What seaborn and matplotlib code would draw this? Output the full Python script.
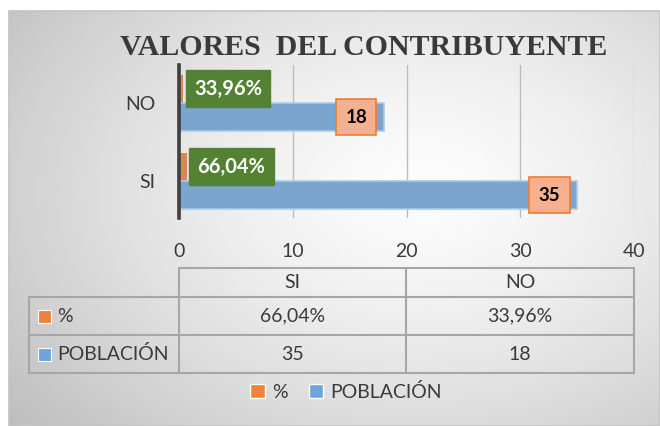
import matplotlib
matplotlib.use("Agg")
import matplotlib.pyplot as plt
from matplotlib.patches import Rectangle, Patch
import numpy as np
import pandas as pd
import seaborn as sns

# data
categorias = ["SI", "NO"]
porcentaje = [0.6604, 0.3396]
poblacion = [35, 18]
series = ["%", "POBLACIÓN"]
titulo = "VALORES  DEL CONTRIBUYENTE"
x_ticks = [0, 10, 20, 30, 40]

NARANJA = "#EE8240"
AZUL = "#6FA5DA"
VERDE = "#548235"
TEXTO = "#3A3A3A"

sns.set_style("white")
plt.rcParams["font.family"] = ["Lato", "DejaVu Sans"]

df = pd.DataFrame({
    "categoria": categorias * 2,
    "serie": [series[0]] * len(categorias) + [series[1]] * len(categorias),
    "valor": porcentaje + poblacion,
})


def fmt_pct(v):
    return f"{v * 100:.2f}".replace(".", ",") + "%"


W, H = 660, 426
fig = plt.figure(figsize=(W / 100, H / 100), dpi=100)


def px_box(x0, y0, x1, y1):
    return [x0 / W, 1 - y1 / H, (x1 - x0) / W, (y1 - y0) / H]


# gray radial gradient behind the chart
bg = fig.add_axes(px_box(9, 11, 660, 426), zorder=-10)
gx, gy = np.meshgrid(np.linspace(9, 660, 300), np.linspace(11, 426, 200))
r = np.hypot((gx - 420) / 470, (gy - 190) / 330)
shade = 0.99 - 0.21 * np.clip(r, 0, 1.2) ** 1.4
bg.imshow(shade, cmap="gray", vmin=0, vmax=1, aspect="auto",
          extent=(0, 1, 0, 1), interpolation="bilinear")
bg.set_axis_off()
fig.add_artist(Rectangle((9 / W, 0), 651 / W, 415 / H, transform=fig.transFigure,
                         fill=False, edgecolor="#C4C4C4", lw=1.2))

# bar chart
ax = fig.add_axes(px_box(179, 65, 634, 218))
ax.patch.set_alpha(0)
sns.barplot(data=df, x="valor", y="categoria", hue="serie", order=["NO", "SI"],
            hue_order=series, palette=[NARANJA, AZUL], orient="h",
            width=0.73, gap=0, legend=False, ax=ax, zorder=3)
for bar in ax.containers[1]:
    bar.set_edgecolor("#A9CBEB")
    bar.set_linewidth(1.2)
for bar in ax.containers[0]:
    bar.set_edgecolor("none")

ax.set_xlim(0, 40)
ax.set_ylim(1.474, -0.487)
ax.set_xticks(x_ticks)
ax.set_xlabel("")
ax.set_ylabel("")
ax.grid(axis="x", color="#BDBDBD", lw=1, zorder=0)
ax.tick_params(axis="x", length=0, pad=18, labelsize=14, labelcolor=TEXTO)
ax.tick_params(axis="y", length=0, pad=17, labelsize=14, labelcolor=TEXTO)
for s in ["top", "right", "bottom"]:
    ax.spines[s].set_visible(False)
ax.spines["left"].set_color("#3F3F3F")
ax.spines["left"].set_linewidth(2.6)
ax.spines["left"].set_zorder(5)

for bar in ax.containers[0]:
    yc = bar.get_y() + bar.get_height() / 2
    ax.annotate(fmt_pct(bar.get_width()), xy=(bar.get_width(), yc),
                xytext=(8, 0), textcoords="offset points", ha="left", va="center",
                fontsize=14.5, fontweight="bold", color="white", zorder=6,
                bbox=dict(boxstyle="square,pad=0.42", fc=VERDE, ec=VERDE))
for bar in ax.containers[1]:
    yc = bar.get_y() + bar.get_height() / 2
    ax.annotate(f"{bar.get_width():.0f}", xy=(bar.get_width(), yc),
                xytext=(-12, 0), textcoords="offset points", ha="right", va="center",
                fontsize=13.5, fontweight="bold", color="black", zorder=6,
                bbox=dict(boxstyle="square,pad=0.5", fc="#F5B08F", ec="#ED7D31", lw=1.2))

fig.text(364 / W, 1 - 55 / H, titulo, ha="center", va="baseline",
         fontsize=21.5, fontweight="bold", color=TEXTO, family="Liberation Serif")

# data table under the chart
tab = fig.add_axes([0, 0, 1, 1])
tab.set_xlim(0, W)
tab.set_ylim(H, 0)
tab.set_axis_off()
tab.patch.set_alpha(0)
lc = dict(color="#A6A6A6", lw=1.5)
cols = [29, 179, 406, 634]
rows = [268, 297, 335, 373]
tab.plot([179, 634], [268, 268], **lc)
for yv in rows[1:]:
    tab.plot([29, 634], [yv, yv], **lc)
tab.plot([29, 29], [297, 373], **lc)
for xv in cols[1:]:
    tab.plot([xv, xv], [268, 373], **lc)

col_centers = [(cols[1] + cols[2]) / 2, (cols[2] + cols[3]) / 2]
for xc, cat in zip(col_centers, categorias):
    tab.text(xc, 283, cat, ha="center", va="center", fontsize=14, color=TEXTO)
fila_vals = [[fmt_pct(v) for v in porcentaje], [str(v) for v in poblacion]]
for (yc, nombre, color, vals) in zip([316, 354], series, [NARANJA, AZUL], fila_vals):
    tab.add_patch(Rectangle((38, yc - 6.5), 13, 13, fc=color, ec="white", lw=0.8))
    tab.text(57, yc, nombre, ha="left", va="center", fontsize=14, color=TEXTO)
    for xc, val in zip(col_centers, vals):
        tab.text(xc, yc, val, ha="center", va="center", fontsize=14, color=TEXTO)

handles = [Patch(fc=NARANJA, ec="white"), Patch(fc=AZUL, ec="white")]
fig.legend(handles, series, loc="center", bbox_to_anchor=(346 / W, 1 - 392 / H),
           ncol=2, frameon=False, fontsize=14, handlelength=0.75, handleheight=0.75,
           handletextpad=0.35, columnspacing=1.1, labelcolor=TEXTO)

fig.savefig("out.png", dpi=100)
